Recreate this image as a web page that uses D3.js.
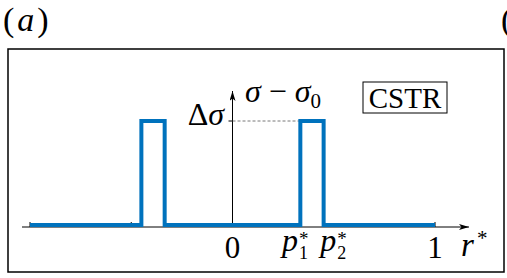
<!DOCTYPE html>
<html>
<head>
<meta charset="utf-8">
<script src="https://cdn.jsdelivr.net/npm/d3@7"></script>
<style>
  body { margin: 0; background: #fff; }
  svg text { font-family: "Liberation Serif", "DejaVu Serif", serif; fill: #000; }
</style>
</head>
<body>
<div id="chart"></div>
<script>
// r* positions where the profile changes, and the profile level (in units of delta sigma)
const rBreaks = [-1, -0.45, -0.45, -0.335, -0.335, 0.335, 0.335, 0.45, 0.45, 1];
const sigmaLevels = [0, 0, 1, 1, 0, 0, 1, 1, 0, 0];
const tickValues = [-1, -0.5, 1];
const tickLabels = [{r: 0, text: "0"}, {r: 1, text: "1"}];
const pLabels = [{r: 0.245, name: "p", sub: "1"}, {r: 0.433, name: "p", sub: "2"}];

const W = 507, H = 278;
const svg = d3.select("#chart").append("svg")
    .attr("width", W).attr("height", H);

// scales
const x = d3.scaleLinear().domain([-1, 1]).range([30, 435]);
const y = d3.scaleLinear().domain([0, 1]).range([225, 121]);

// panel label
const pa = svg.append("text").attr("x", 3).attr("y", 31)
    .style("font-size", "34px");
pa.append("tspan").text("(");
pa.append("tspan").attr("dx", 3).attr("font-style", "italic").text("a");
pa.append("tspan").attr("dx", 3).text(")");
svg.append("text").attr("x", 501).attr("y", 31)
    .style("font-size", "34px").text("(");

// frame
svg.append("rect")
    .attr("x", 8).attr("y", 49).attr("width", 496).attr("height", 223)
    .attr("fill", "none").attr("stroke", "#000").attr("stroke-width", 1.5);

// arrow marker
const defs = svg.append("defs");
defs.append("marker").attr("id", "arr")
    .attr("viewBox", "0 0 10 6").attr("refX", 10).attr("refY", 3)
    .attr("markerWidth", 10).attr("markerHeight", 6)
    .attr("markerUnits", "userSpaceOnUse")
    .attr("orient", "auto")
  .append("path").attr("d", "M0,0 L10,3 L0,6 L2.5,3 Z").attr("fill", "#000");

const axisY = y(0) + 2;

// horizontal axis
svg.append("line")
    .attr("x1", 22).attr("x2", 469)
    .attr("y1", axisY).attr("y2", axisY)
    .attr("stroke", "#000").attr("stroke-width", 1)
    .attr("marker-end", "url(#arr)");

// ticks (pointing up)
svg.selectAll(".tick").data(tickValues).enter().append("line")
    .attr("class", "tick")
    .attr("x1", d => x(d)).attr("x2", d => x(d))
    .attr("y1", axisY).attr("y2", axisY - 5)
    .attr("stroke", "#000").attr("stroke-width", 1);

// vertical axis at r* = 0
svg.append("line")
    .attr("x1", x(0)).attr("x2", x(0))
    .attr("y1", axisY).attr("y2", 91)
    .attr("stroke", "#000").attr("stroke-width", 1)
    .attr("marker-end", "url(#arr)");

// delta sigma tick + dashed guide
svg.append("line")
    .attr("x1", x(0) - 4).attr("x2", x(0))
    .attr("y1", y(1)).attr("y2", y(1))
    .attr("stroke", "#000");
svg.append("line")
    .attr("x1", x(0)).attr("x2", x(0.335))
    .attr("y1", y(1)).attr("y2", y(1))
    .attr("stroke", "#555").attr("stroke-width", 0.8)
    .attr("stroke-dasharray", "3,2");

// profile
const profile = rBreaks.map((r, i) => [r, sigmaLevels[i]]);
svg.append("path")
    .datum(profile)
    .attr("fill", "none")
    .attr("stroke", "#0072bd")
    .attr("stroke-width", 4)
    .attr("d", d3.line().x(d => x(d[0])).y(d => y(d[1])));

// tick labels
svg.selectAll(".tl").data(tickLabels).enter().append("text")
    .attr("class", "tl")
    .attr("x", d => x(d.r)).attr("y", 258)
    .attr("text-anchor", "middle")
    .style("font-size", "31px")
    .text(d => d.text);

// p1*, p2* labels: p with stacked subscript and star
pLabels.forEach(d => {
    const g = svg.append("g");
    const p = g.append("text").attr("x", x(d.r)).attr("y", 251)
        .attr("font-style", "italic").style("font-size", "32px").text(d.name);
    const sx = x(d.r) + p.node().getComputedTextLength() + 1;
    g.append("text").attr("x", sx).attr("y", 259)
        .style("font-size", "18px").text(d.sub);
    g.append("text").attr("x", sx).attr("y", 245)
        .style("font-size", "19px").text("*");
});

// r* label
svg.append("text").attr("x", 461).attr("y", 256)
    .attr("font-style", "italic").style("font-size", "33px").text("r");
svg.append("text").attr("x", 477).attr("y", 245)
    .style("font-size", "21px").text("*");

// y labels
const sl = svg.append("text").attr("x", 245).attr("y", 102)
    .style("font-size", "32px");
sl.append("tspan").attr("font-style", "italic").text("σ");
sl.append("tspan").attr("dx", 8).text("−");
sl.append("tspan").attr("dx", 8).attr("font-style", "italic").text("σ");
sl.append("tspan").attr("dy", 6).style("font-size", "21px").text("0");

const dl = svg.append("text").attr("x", 224).attr("y", 125)
    .attr("text-anchor", "end")
    .style("font-size", "32px");
dl.append("tspan").text("Δ");
dl.append("tspan").attr("font-style", "italic").text("σ");

// CSTR box
svg.append("rect")
    .attr("x", 363).attr("y", 82).attr("width", 84).attr("height", 31)
    .attr("fill", "none").attr("stroke", "#000").attr("stroke-width", 1);
svg.append("text").attr("x", 405).attr("y", 108)
    .attr("text-anchor", "middle")
    .style("font-size", "29px")
    .text("CSTR");
</script>
</body>
</html>
